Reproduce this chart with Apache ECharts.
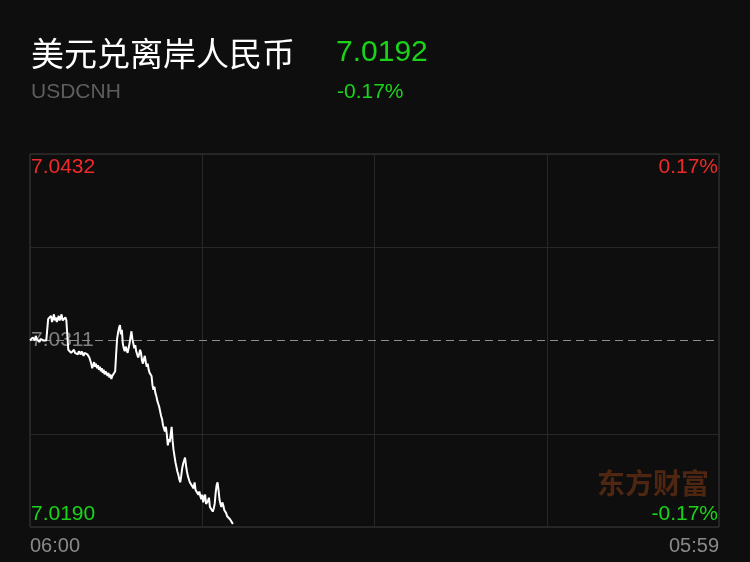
<!DOCTYPE html>
<html><head><meta charset="utf-8">
<script src="https://cdn.jsdelivr.net/npm/echarts@6/dist/echarts.min.js"></script>
<style>html,body{margin:0;padding:0;background:#0e0e0e;}#c{width:750px;height:562px;}</style>
</head><body><div id="c"></div>
<script>
const titleName = '美元兑离岸人民币';
const symbolCode = 'USDCNH';
const lastPrice = '7.0192';
const changePct = '-0.17%';
const watermark = '东方财富';
const prevClose = 7.0311;
const highBound = 7.0432;
const lowBound = 7.0190;
const leftTickLabels = ['7.0190', '', '7.0311', '', '7.0432'];
const rightTickLabels = ['-0.17%', '', '', '', '0.17%'];
const timeLabels = ['06:00', '05:59'];
const sessionMinutes = 1440;
const stepMinutes = 2;
const prices = [
  7.0311, 7.0312, 7.0311, 7.0313, 7.0312, 7.0311, 7.0314, 7.0312, 7.0311, 7.0312,
  7.0310, 7.0312, 7.0311, 7.0313, 7.0311, 7.0312, 7.0310, 7.0311, 7.0312, 7.0325,
  7.0326, 7.0324, 7.0327, 7.0323, 7.0325, 7.0328, 7.0324, 7.0326, 7.0323, 7.0325,
  7.0327, 7.0324, 7.0326, 7.0328, 7.0324, 7.0325, 7.0323, 7.0326, 7.0324, 7.0325, 7.0305,
  7.0304, 7.0305, 7.0303, 7.0304, 7.0302, 7.0305, 7.0303, 7.0304, 7.0303, 7.0302,
  7.0304, 7.0303, 7.0302, 7.0304, 7.0303, 7.0301, 7.0303, 7.0302, 7.0304, 7.0302, 7.0301,
  7.0300, 7.0298, 7.0296, 7.0293, 7.0295, 7.0297, 7.0294, 7.0296, 7.0293, 7.0295,
  7.0292, 7.0294, 7.0291, 7.0293, 7.0290, 7.0292, 7.0289, 7.0291, 7.0290, 7.0288,
  7.0290, 7.0287, 7.0289, 7.0286, 7.0288, 7.0287, 7.0289, 7.0291, 7.0302,
  7.0312, 7.0316, 7.0319, 7.0321, 7.0315, 7.0318, 7.0309, 7.0306, 7.0304, 7.0307,
  7.0305, 7.0303, 7.0306, 7.0309, 7.0313, 7.0317, 7.0312, 7.0309, 7.0306, 7.0308,
  7.0304, 7.0302, 7.0300, 7.0302, 7.0305, 7.0303, 7.0298, 7.0296, 7.0299, 7.0301,
  7.0297, 7.0294, 7.0296, 7.0292, 7.0290, 7.0291, 7.0288, 7.0282, 7.0279, 7.0281,
  7.0277, 7.0275, 7.0272, 7.0270, 7.0268, 7.0265, 7.0262, 7.0260, 7.0256, 7.0254,
  7.0252, 7.0255, 7.0250, 7.0243, 7.0247, 7.0245, 7.0250, 7.0255, 7.0246, 7.0240,
  7.0236, 7.0232, 7.0229, 7.0226, 7.0224, 7.0221, 7.0219, 7.0223, 7.0228, 7.0231,
  7.0233, 7.0235, 7.0230, 7.0226, 7.0223, 7.0221, 7.0219, 7.0220, 7.0217, 7.0218,
  7.0215, 7.0219, 7.0214, 7.0213, 7.0215, 7.0211, 7.0213, 7.0210, 7.0208, 7.0211,
  7.0206, 7.0209, 7.0211, 7.0205, 7.0204, 7.0207, 7.0209, 7.0203, 7.0202, 7.0204,
  7.0200, 7.0202, 7.0205, 7.0212, 7.0217, 7.0219, 7.0214, 7.0208, 7.0205, 7.0203,
  7.0206, 7.0204, 7.0201, 7.0202, 7.0199, 7.0197, 7.0196, 7.0198, 7.0195, 7.0196,
  7.0193, 7.0192
];

const RED = '#f02a2a', GREEN = '#1ad41a', GRIDC = '#282828', BORDER = '#3a3a3a';
const numFont = '"Liberation Sans", Arial, sans-serif';
const cjkFont = '"Noto Sans CJK SC", sans-serif';

const chart = echarts.init(document.getElementById('c'), null, {renderer: 'canvas'});

function tickRich(labels) {
  return {
    inside: true, margin: 1, fontFamily: numFont, fontSize: 21,
    formatter: function (v) {
      const s = labels[v];
      if (!s) return '';
      if (v === 4) return '{up|' + s + '}';
      if (v === 0) return '{dn|' + s + '}';
      return '{mid|' + s + '}';
    },
    rich: {
      up: {color: RED, fontSize: 21, fontFamily: numFont, padding: [26, 0, 0, 0]},
      dn: {color: GREEN, fontSize: 21, fontFamily: numFont, padding: [0, 0, 26, 0]},
      mid: {color: '#808080', fontSize: 21, fontFamily: numFont}
    }
  };
}

chart.setOption({
  backgroundColor: '#0e0e0e',
  animation: false,
  grid: {left: 30, right: 31, top: 154, bottom: 35, show: true, borderColor: BORDER, borderWidth: 1, backgroundColor: 'transparent'},
  xAxis: {
    type: 'value', min: 0, max: sessionMinutes, interval: sessionMinutes / 4,
    axisLine: {show: false}, axisTick: {show: false},
    splitLine: {show: true, lineStyle: {color: GRIDC, width: 1}},
    axisLabel: {
      color: '#8a8a8a', fontSize: 20, fontFamily: numFont, margin: 9,
      alignMinLabel: 'left', alignMaxLabel: 'right',
      formatter: function (v) {
        if (v === 0) return timeLabels[0];
        if (v === sessionMinutes) return timeLabels[1];
        return '';
      }
    }
  },
  yAxis: [
    {type: 'value', min: lowBound, max: highBound, show: false},
    {type: 'value', position: 'left', min: 0, max: 4, interval: 1,
     axisLine: {show: false}, axisTick: {show: false},
     splitLine: {show: true, lineStyle: {color: [GRIDC, GRIDC, 'rgba(0,0,0,0)', GRIDC, GRIDC]}},
     axisLabel: tickRich(leftTickLabels)},
    {type: 'value', position: 'right', min: 0, max: 4, interval: 1,
     axisLine: {show: false}, axisTick: {show: false}, splitLine: {show: false},
     axisLabel: tickRich(rightTickLabels)}
  ],
  series: [
    {
      type: 'line', yAxisIndex: 0, z: 3, silent: true,
      data: [[0, prevClose], [sessionMinutes, prevClose]],
      showSymbol: false, symbol: 'none',
      lineStyle: {color: '#8e8e8e', type: [8, 5], width: 1}
    },
    {
      type: 'line', yAxisIndex: 0, z: 5,
      data: prices.map(function (p, i) { return [i * stepMinutes, p]; }),
      showSymbol: false, symbol: 'none',
      lineStyle: {color: '#ffffff', width: 2}
    }
  ],
  graphic: [
    {type: 'text', x: 31, y: 53, style: {text: titleName, fill: '#ffffff', font: 'normal 33px ' + cjkFont, textVerticalAlign: 'middle'}},
    {type: 'text', x: 336, y: 53, style: {text: lastPrice, fill: GREEN, font: 'normal 30px ' + numFont, textVerticalAlign: 'middle'}},
    {type: 'text', x: 31, y: 92, style: {text: symbolCode, fill: '#5e5e5e', font: 'normal 21px ' + numFont, textVerticalAlign: 'middle'}},
    {type: 'text', x: 337, y: 92, style: {text: changePct, fill: GREEN, font: 'normal 21px ' + numFont, textVerticalAlign: 'middle'}},
    {type: 'text', x: 597, y: 483, z: 0, style: {text: watermark, fill: '#4e2611', font: 'bold 28px ' + cjkFont, textVerticalAlign: 'middle'}}
  ]
});
</script></body></html>
